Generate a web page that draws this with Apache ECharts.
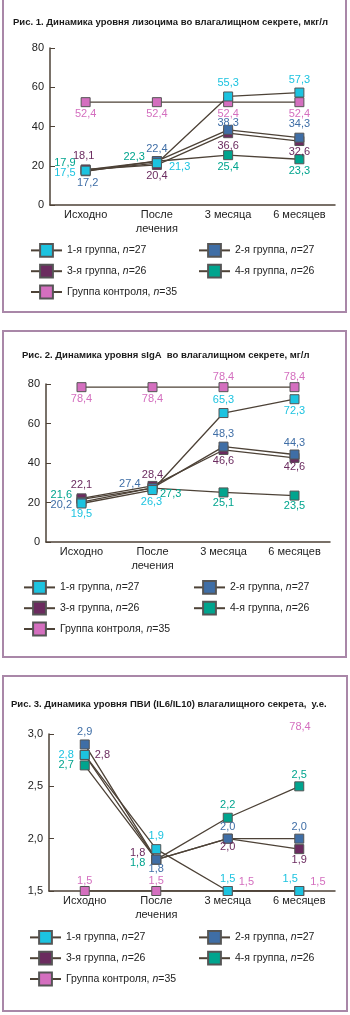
<!DOCTYPE html>
<html>
<head>
<meta charset="utf-8">
<script src="https://cdn.jsdelivr.net/npm/echarts@6/dist/echarts.min.js"></script>
<style>
html, body { margin: 0; padding: 0; background: #fff; }
#main { width: 350px; height: 1015px; }
</style>
</head>
<body>
<div id="main"></div>
<script>
const categories = ['Исходно', 'После\nлечения', '3 месяца', '6 месяцев'];
const groupNames = ['1-я группа, n=27', '2-я группа, n=27', '3-я группа, n=26', '4-я группа, n=26', 'Группа контроля, n=35'];
const titles = [
  'Рис. 1. Динамика уровня лизоцима во влагалищном секрете, мкг/л',
  'Рис. 2. Динамика уровня sIgA  во влагалищном секрете, мг/л',
  'Рис. 3. Динамика уровня ПВИ (IL6/IL10) влагалищного секрета,  у.е.'
];

// Рис. 1 - лизоцим
const lys1 = [17.5, 21.3, 55.3, 57.3];
const lys2 = [17.2, 22.4, 38.3, 34.3];
const lys3 = [18.1, 20.4, 36.6, 32.6];
const lys4 = [17.9, 22.3, 25.4, 23.3];
const lysCtrl = [52.4, 52.4, 52.4, 52.4];

// Рис. 2 - sIgA
const iga1 = [19.5, 26.3, 65.3, 72.3];
const iga2 = [20.2, 27.4, 48.3, 44.3];
const iga3 = [22.1, 28.4, 46.6, 42.6];
const iga4 = [21.6, 27.3, 25.1, 23.5];
const igaCtrl = [78.4, 78.4, 78.4, 78.4];

// Рис. 3 - ПВИ
const pvi1 = [2.8, 1.9, 1.5, 1.5];
const pvi2 = [2.9, 1.8, 2.0, 2.0];
const pvi3 = [2.8, 1.8, 2.0, 1.9];
const pvi4 = [2.7, 1.8, 2.2, 2.5];
const pviCtrl = [1.5, 1.5, 1.5, 1.5];

// шкалы
const ticksConc = [0, 20, 40, 60, 80];
const ticksPvi = [1.5, 2.0, 2.5, 3.0];
const strayLabel = '78,4'; // подпись в правом верхнем углу рис. 3

const colors = ['#1cc3e0', '#3f6ea6', '#6b2b5f', '#00a48e', '#d46fbf'];
const lineColor = '#4d4237';
const font = "'Liberation Sans', Arial, sans-serif";

function L(pos, dist, ox, oy) {
  return { position: pos, distance: dist, offset: [ox || 0, oy || 0] };
}

// размещение подписей: [группа][точка]
const labels1 = [
  [L('left', 5, 0, 2), L('right', 7, 0, 4), L('top', 3), L('top', 2)],
  [L('bottom', 1, 2), L('top', 2), L('top', -4), L('top', 3)],
  [L('top', 3, -2), L('bottom', 1), L('bottom', 2), L('bottom', 0)],
  [L('left', 5, 0, -7), L('left', 7, 0, -4), L('bottom', 1), L('bottom', 1)],
  [L('bottom', 1), L('bottom', 1), L('bottom', 1), L('bottom', 1)]
];
const labels2 = [
  [L('bottom', 0), L('bottom', 1, -1), L('top', 3), L('bottom', 1.5)],
  [L('left', 4.5, 0, 3), L('left', 7, 0, -4), L('top', 2.5), L('top', 1)],
  [L('top', 3), L('top', 0), L('bottom', 1), L('bottom', -1)],
  [L('left', 4.5, 0, -4), L('right', 2.5, 0, 6), L('bottom', 0.5), L('bottom', 0)],
  [L('bottom', 1.5), L('bottom', 1.5), L('top', 0), L('top', 0)]
];
const labels3 = [
  [L('left', 6), L('top', 3), L('top', 2), L('top', 2, -9)],
  [L('top', 1.5), L('bottom', -1), L('top', 1), L('top', 1)],
  [L('right', 5), L('left', 6, 0, -7), L('bottom', -2), L('bottom', 0.5)],
  [L('left', 6), L('left', 6, 0, 3), L('top', 2), L('top', 1)],
  [L('top', 0), L('top', 0), L('right', 6, 0, -9), L('right', 6, 0, -9)]
];

const charts = [
  { data: [lys1, lys2, lys3, lys4, lysCtrl], labels: labels1, ticks: ticksConc, tickDigits: 0,
    grid: { left: 50, top: 48, width: 285, height: 157 },
    title: { left: 13, top: 17 }, legendTop: 243, legendLeft: [30, 198] },
  { data: [iga1, iga2, iga3, iga4, igaCtrl], labels: labels2, ticks: ticksConc, tickDigits: 0,
    grid: { left: 46, top: 384, width: 284, height: 158 },
    title: { left: 22, top: 350 }, legendTop: 580, legendLeft: [23, 193] },
  { data: [pvi1, pvi2, pvi3, pvi4, pviCtrl], labels: labels3, ticks: ticksPvi, tickDigits: 1,
    grid: { left: 49, top: 734, width: 286, height: 157 },
    title: { left: 11, top: 699 }, legendTop: 930, legendLeft: [29, 198] }
];

const fmt = (v, d) => v.toFixed(d).replace('.', ',');

let grid = [], xAxis = [], yAxis = [], series = [], title = [], legend = [];

charts.forEach((c, ci) => {
  grid.push(c.grid);
  title.push({
    text: titles[ci], left: c.title.left, top: c.title.top, padding: 0,
    textStyle: { fontSize: 9.5, fontWeight: 'bold', color: '#1a1a1a', fontFamily: font }
  });
  xAxis.push({
    type: 'category', gridIndex: ci, data: categories, boundaryGap: true,
    axisLine: { lineStyle: { color: lineColor, width: 1.5 } },
    axisTick: { inside: true, length: 4, lineStyle: { color: lineColor } },
    axisLabel: { color: '#222', fontSize: 11, lineHeight: 14, margin: 3, fontFamily: font },
    splitLine: { show: false }
  });
  yAxis.push({
    type: 'value', gridIndex: ci,
    min: c.ticks[0], max: c.ticks[c.ticks.length - 1], interval: c.ticks[1] - c.ticks[0],
    axisLine: { show: true, lineStyle: { color: lineColor, width: 1.5 } },
    axisTick: { show: true, inside: true, length: 5, lineStyle: { color: lineColor } },
    axisLabel: { color: '#222', fontSize: 11, margin: 6, fontFamily: font, formatter: v => fmt(v, c.tickDigits) },
    splitLine: { show: false }
  });
  // порядок отрисовки: контроль снизу, 1-я группа сверху
  [4, 3, 2, 1, 0].forEach(gi => {
    series.push({
      name: groupNames[gi], type: 'line', xAxisIndex: ci, yAxisIndex: ci,
      symbol: 'rect', symbolSize: 9, animation: false,
      lineStyle: { color: lineColor, width: 1.3 },
      itemStyle: { color: colors[gi], borderColor: '#555', borderWidth: 1 },
      label: { show: true, color: colors[gi], fontSize: 11, fontFamily: font, formatter: p => fmt(p.value, 1) },
      data: c.data[gi].map((v, i) => ({ value: v, label: c.labels[gi][i] }))
    });
  });
  const legendBase = {
    orient: 'vertical', top: c.legendTop, itemWidth: 31, itemHeight: 16, itemGap: 6,
    padding: 0, selectedMode: false,
    textStyle: { color: '#222', fontSize: 10.5, fontFamily: font, rich: { i: { fontStyle: 'italic', fontSize: 10.5, fontFamily: font, color: '#222' } } },
    formatter: name => name.replace(', n=', ', {i|n}=')
  };
  legend.push(Object.assign({}, legendBase, { left: c.legendLeft[0], data: [groupNames[0], groupNames[2], groupNames[4]] }));
  legend.push(Object.assign({}, legendBase, { left: c.legendLeft[1], data: [groupNames[1], groupNames[3]] }));
});

const border = '#a987a8';
const chart = echarts.init(document.getElementById('main'));
chart.setOption({
  animation: false,
  backgroundColor: '#fff',
  textStyle: { fontFamily: font },
  title, grid, xAxis, yAxis, series, legend,
  graphic: [
    { type: 'rect', shape: { x: 3, y: -5, width: 343, height: 317 }, style: { fill: 'none', stroke: border, lineWidth: 2 } },
    { type: 'rect', shape: { x: 3, y: 331, width: 343, height: 326 }, style: { fill: 'none', stroke: border, lineWidth: 2 } },
    { type: 'rect', shape: { x: 3, y: 676, width: 344, height: 335 }, style: { fill: 'none', stroke: border, lineWidth: 2 } },
    { type: 'text', x: 300, y: 727, style: { text: strayLabel, fill: colors[4], font: '11px ' + font, align: 'center', verticalAlign: 'middle' } }
  ]
});
window.addEventListener('resize', chart.resize);
</script>
</body>
</html>
